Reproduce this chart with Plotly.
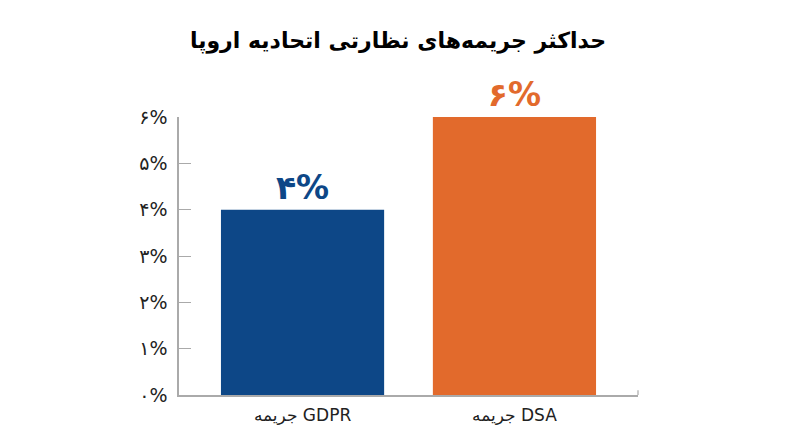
import plotly.graph_objects as go

# data
categories = ["جریمه GDPR", "جریمه DSA"]
max_fine_pct = [4, 6]
bar_labels = ["۴%", "۶%"]
bar_colors = ["#0D4787", "#E26A2C"]
y_tickvals = [0, 1, 2, 3, 4, 5, 6]
y_ticktext = ["۰%", "۱%", "۲%", "۳%", "۴%", "۵%", "۶%"]

FONT = "DejaVu Sans, Noto Sans, sans-serif"

fig = go.Figure(
    go.Bar(
        x=categories,
        y=max_fine_pct,
        marker=dict(color=bar_colors, line=dict(width=0)),
        text=bar_labels,
        textposition="outside",
        textfont=dict(family=FONT, size=33, color=bar_colors, weight="bold"),
        cliponaxis=False,
        hoverinfo="skip",
    )
)

# page has an 8px body margin, so margins are shifted by that
fig.update_layout(
    width=800,
    height=447,
    margin=dict(l=171, r=170, t=109, b=60),
    paper_bgcolor="white",
    plot_bgcolor="white",
    bargap=0.23,
    showlegend=False,
    title=dict(
        text="<b>حداکثر جریمه‌های نظارتی اتحادیه اروپا</b>",
        x=0.4875,
        xanchor="center",
        y=0.928,
        yanchor="middle",
        font=dict(family=FONT, size=22, color="black"),
    ),
    font=dict(family=FONT),
    # small closing tick at the right end of the baseline
    shapes=[
        dict(
            type="line",
            xref="paper",
            yref="y",
            x0=1,
            x1=1,
            y0=0,
            y1=0.1,
            line=dict(color="#AAAAAA", width=1.2),
        )
    ],
)

fig.update_xaxes(
    range=[-0.583, 1.583],
    showline=True,
    linecolor="#AAAAAA",
    linewidth=1.5,
    ticks="",
    showgrid=False,
    ticklabelstandoff=4,
    tickfont=dict(family=FONT, size=17, color="#222222"),
)

fig.update_yaxes(
    range=[0, 6],
    tickvals=y_tickvals,
    ticktext=y_ticktext,
    showline=True,
    linecolor="#AAAAAA",
    linewidth=1.5,
    ticks="inside",
    ticklen=12,
    tickcolor="#AAAAAA",
    tickwidth=1.2,
    showgrid=False,
    zeroline=False,
    ticklabelstandoff=6,
    tickfont=dict(family=FONT, size=19, color="#222222"),
)

fig.write_html("out.html")
